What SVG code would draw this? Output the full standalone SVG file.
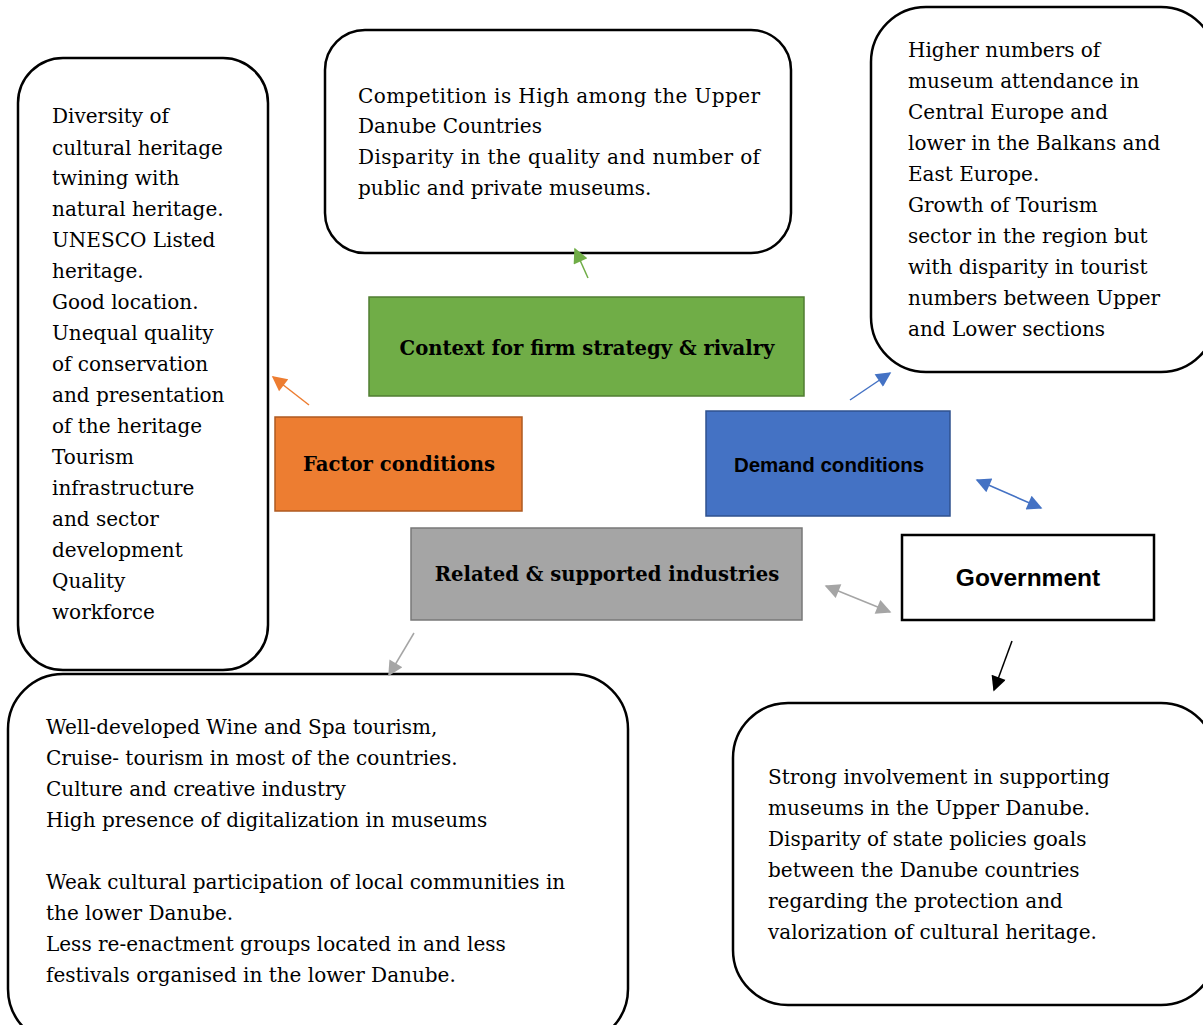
<svg xmlns="http://www.w3.org/2000/svg" width="1203" height="1025" viewBox="0 0 1203 1025">
<style>
.box{fill:#fff;stroke:#000;stroke-width:2.5}
.t{font-family:"DejaVu Serif","Liberation Serif",serif;font-size:20px;fill:#000}
.lb{font-family:"DejaVu Serif","Liberation Serif",serif;font-size:19.6px;font-weight:bold;fill:#000;text-anchor:middle;dominant-baseline:central}
.ls{font-family:"Liberation Sans","Open Sans",sans-serif;font-weight:bold;fill:#000;text-anchor:middle;dominant-baseline:central}
.c{fill:none;stroke-width:1.5}
</style>
<defs>
<marker id="aO" viewBox="0 0 10 10" refX="9" refY="5" markerWidth="12" markerHeight="10" orient="auto-start-reverse"><path d="M0,0 L10,5 L0,10 z" fill="#ED7D31"/></marker>
<marker id="aG" viewBox="0 0 10 10" refX="9" refY="5" markerWidth="12" markerHeight="10" orient="auto-start-reverse"><path d="M0,0 L10,5 L0,10 z" fill="#70AD47"/></marker>
<marker id="aB" viewBox="0 0 10 10" refX="9" refY="5" markerWidth="12" markerHeight="10" orient="auto-start-reverse"><path d="M0,0 L10,5 L0,10 z" fill="#4472C4"/></marker>
<marker id="aY" viewBox="0 0 10 10" refX="9" refY="5" markerWidth="12" markerHeight="10" orient="auto-start-reverse"><path d="M0,0 L10,5 L0,10 z" fill="#A5A5A5"/></marker>
<marker id="aK" viewBox="0 0 10 10" refX="9" refY="5" markerWidth="12" markerHeight="10" orient="auto-start-reverse"><path d="M0,0 L10,5 L0,10 z" fill="#000"/></marker>
</defs>
<rect width="1203" height="1025" fill="#fff"/>

<g id="factor-text">
<rect class="box" x="18" y="58" width="250" height="612" rx="45"/>
<text class="t" x="52" y="123">Diversity of</text>
<text class="t" x="52" y="155">cultural heritage</text>
<text class="t" x="52" y="185">twining with</text>
<text class="t" x="52" y="216">natural heritage.</text>
<text class="t" x="52" y="247">UNESCO Listed</text>
<text class="t" x="52" y="278">heritage.</text>
<text class="t" x="52" y="309">Good location.</text>
<text class="t" x="52" y="340">Unequal quality</text>
<text class="t" x="52" y="371">of conservation</text>
<text class="t" x="52" y="402">and presentation</text>
<text class="t" x="52" y="433">of the heritage</text>
<text class="t" x="52" y="464">Tourism</text>
<text class="t" x="52" y="495">infrastructure</text>
<text class="t" x="52" y="526">and sector</text>
<text class="t" x="52" y="557">development</text>
<text class="t" x="52" y="588">Quality</text>
<text class="t" x="52" y="619">workforce</text>
</g>

<g id="context-text">
<rect class="box" x="325" y="30" width="466" height="223" rx="40"/>
<text class="t" x="358" y="103" textLength="402" lengthAdjust="spacing">Competition is High among the Upper</text>
<text class="t" x="358" y="133">Danube Countries</text>
<text class="t" x="358" y="164" textLength="402" lengthAdjust="spacing">Disparity in the quality and number of</text>
<text class="t" x="358" y="195">public and private museums.</text>
</g>

<g id="demand-text">
<rect class="box" x="871" y="7" width="345" height="365" rx="55"/>
<text class="t" x="908" y="57">Higher numbers of</text>
<text class="t" x="908" y="88">museum attendance in</text>
<text class="t" x="908" y="119">Central Europe and</text>
<text class="t" x="908" y="150">lower in the Balkans and</text>
<text class="t" x="908" y="181">East Europe.</text>
<text class="t" x="908" y="212">Growth of Tourism</text>
<text class="t" x="908" y="243">sector in the region but</text>
<text class="t" x="908" y="274">with disparity in tourist</text>
<text class="t" x="908" y="305">numbers between Upper</text>
<text class="t" x="908" y="336">and Lower sections</text>
</g>

<g id="context">
<rect x="369" y="297" width="435" height="99" fill="#70AD47" stroke="#507E32" stroke-width="1.5"/>
<text class="lb" x="587" y="348" font-size="19.4">Context for firm strategy &amp; rivalry</text>
</g>

<g id="factor">
<rect x="275" y="417" width="247" height="94" fill="#ED7D31" stroke="#AE5A21" stroke-width="1.5"/>
<text class="lb" x="399" y="464">Factor conditions</text>
</g>

<g id="demand">
<rect x="706" y="411" width="244" height="105" fill="#4472C4" stroke="#2F528F" stroke-width="1.5"/>
<text class="ls" x="829" y="464" font-size="20.5">Demand conditions</text>
</g>

<g id="related">
<rect x="411" y="528" width="391" height="92" fill="#A5A5A5" stroke="#787878" stroke-width="1.5"/>
<text class="lb" x="607" y="574">Related &amp; supported industries</text>
</g>

<g id="government">
<rect x="902" y="535" width="252" height="85" fill="#fff" stroke="#000" stroke-width="2.5"/>
<text class="ls" x="1028" y="577" font-size="24.5">Government</text>
</g>

<g id="related-text">
<rect class="box" x="8" y="674" width="620" height="370" rx="55"/>
<text class="t" x="46" y="734">Well-developed Wine and Spa tourism,</text>
<text class="t" x="46" y="765">Cruise- tourism in most of the countries.</text>
<text class="t" x="46" y="796">Culture and creative industry</text>
<text class="t" x="46" y="827">High presence of digitalization in museums</text>
<text class="t" x="46" y="889">Weak cultural participation of local communities in</text>
<text class="t" x="46" y="920">the lower Danube.</text>
<text class="t" x="46" y="951">Less re-enactment groups located in and less</text>
<text class="t" x="46" y="982">festivals organised in the lower Danube.</text>
</g>

<g id="government-text">
<rect class="box" x="733" y="703" width="483" height="302" rx="55"/>
<text class="t" x="768" y="784">Strong involvement in supporting</text>
<text class="t" x="768" y="815">museums in the Upper Danube.</text>
<text class="t" x="768" y="846">Disparity of state policies goals</text>
<text class="t" x="768" y="877">between the Danube countries</text>
<text class="t" x="768" y="908">regarding the protection and</text>
<text class="t" x="768" y="939">valorization of cultural heritage.</text>
</g>

<g id="connectors">
<line class="c" x1="309" y1="405" x2="273" y2="377" stroke="#ED7D31" marker-end="url(#aO)"/>
<line class="c" x1="588" y1="278" x2="575" y2="249" stroke="#70AD47" marker-end="url(#aG)"/>
<line class="c" x1="850" y1="400" x2="890" y2="373" stroke="#4472C4" marker-end="url(#aB)"/>
<line class="c" x1="977" y1="480" x2="1041" y2="508" stroke="#4472C4" marker-start="url(#aB)" marker-end="url(#aB)"/>
<line class="c" x1="826" y1="586" x2="890" y2="612" stroke="#A5A5A5" marker-start="url(#aY)" marker-end="url(#aY)"/>
<line class="c" x1="414" y1="633" x2="389" y2="675" stroke="#A5A5A5" marker-end="url(#aY)"/>
<line class="c" x1="1012" y1="641" x2="994" y2="690" stroke="#000" marker-end="url(#aK)"/>
</g>
</svg>
